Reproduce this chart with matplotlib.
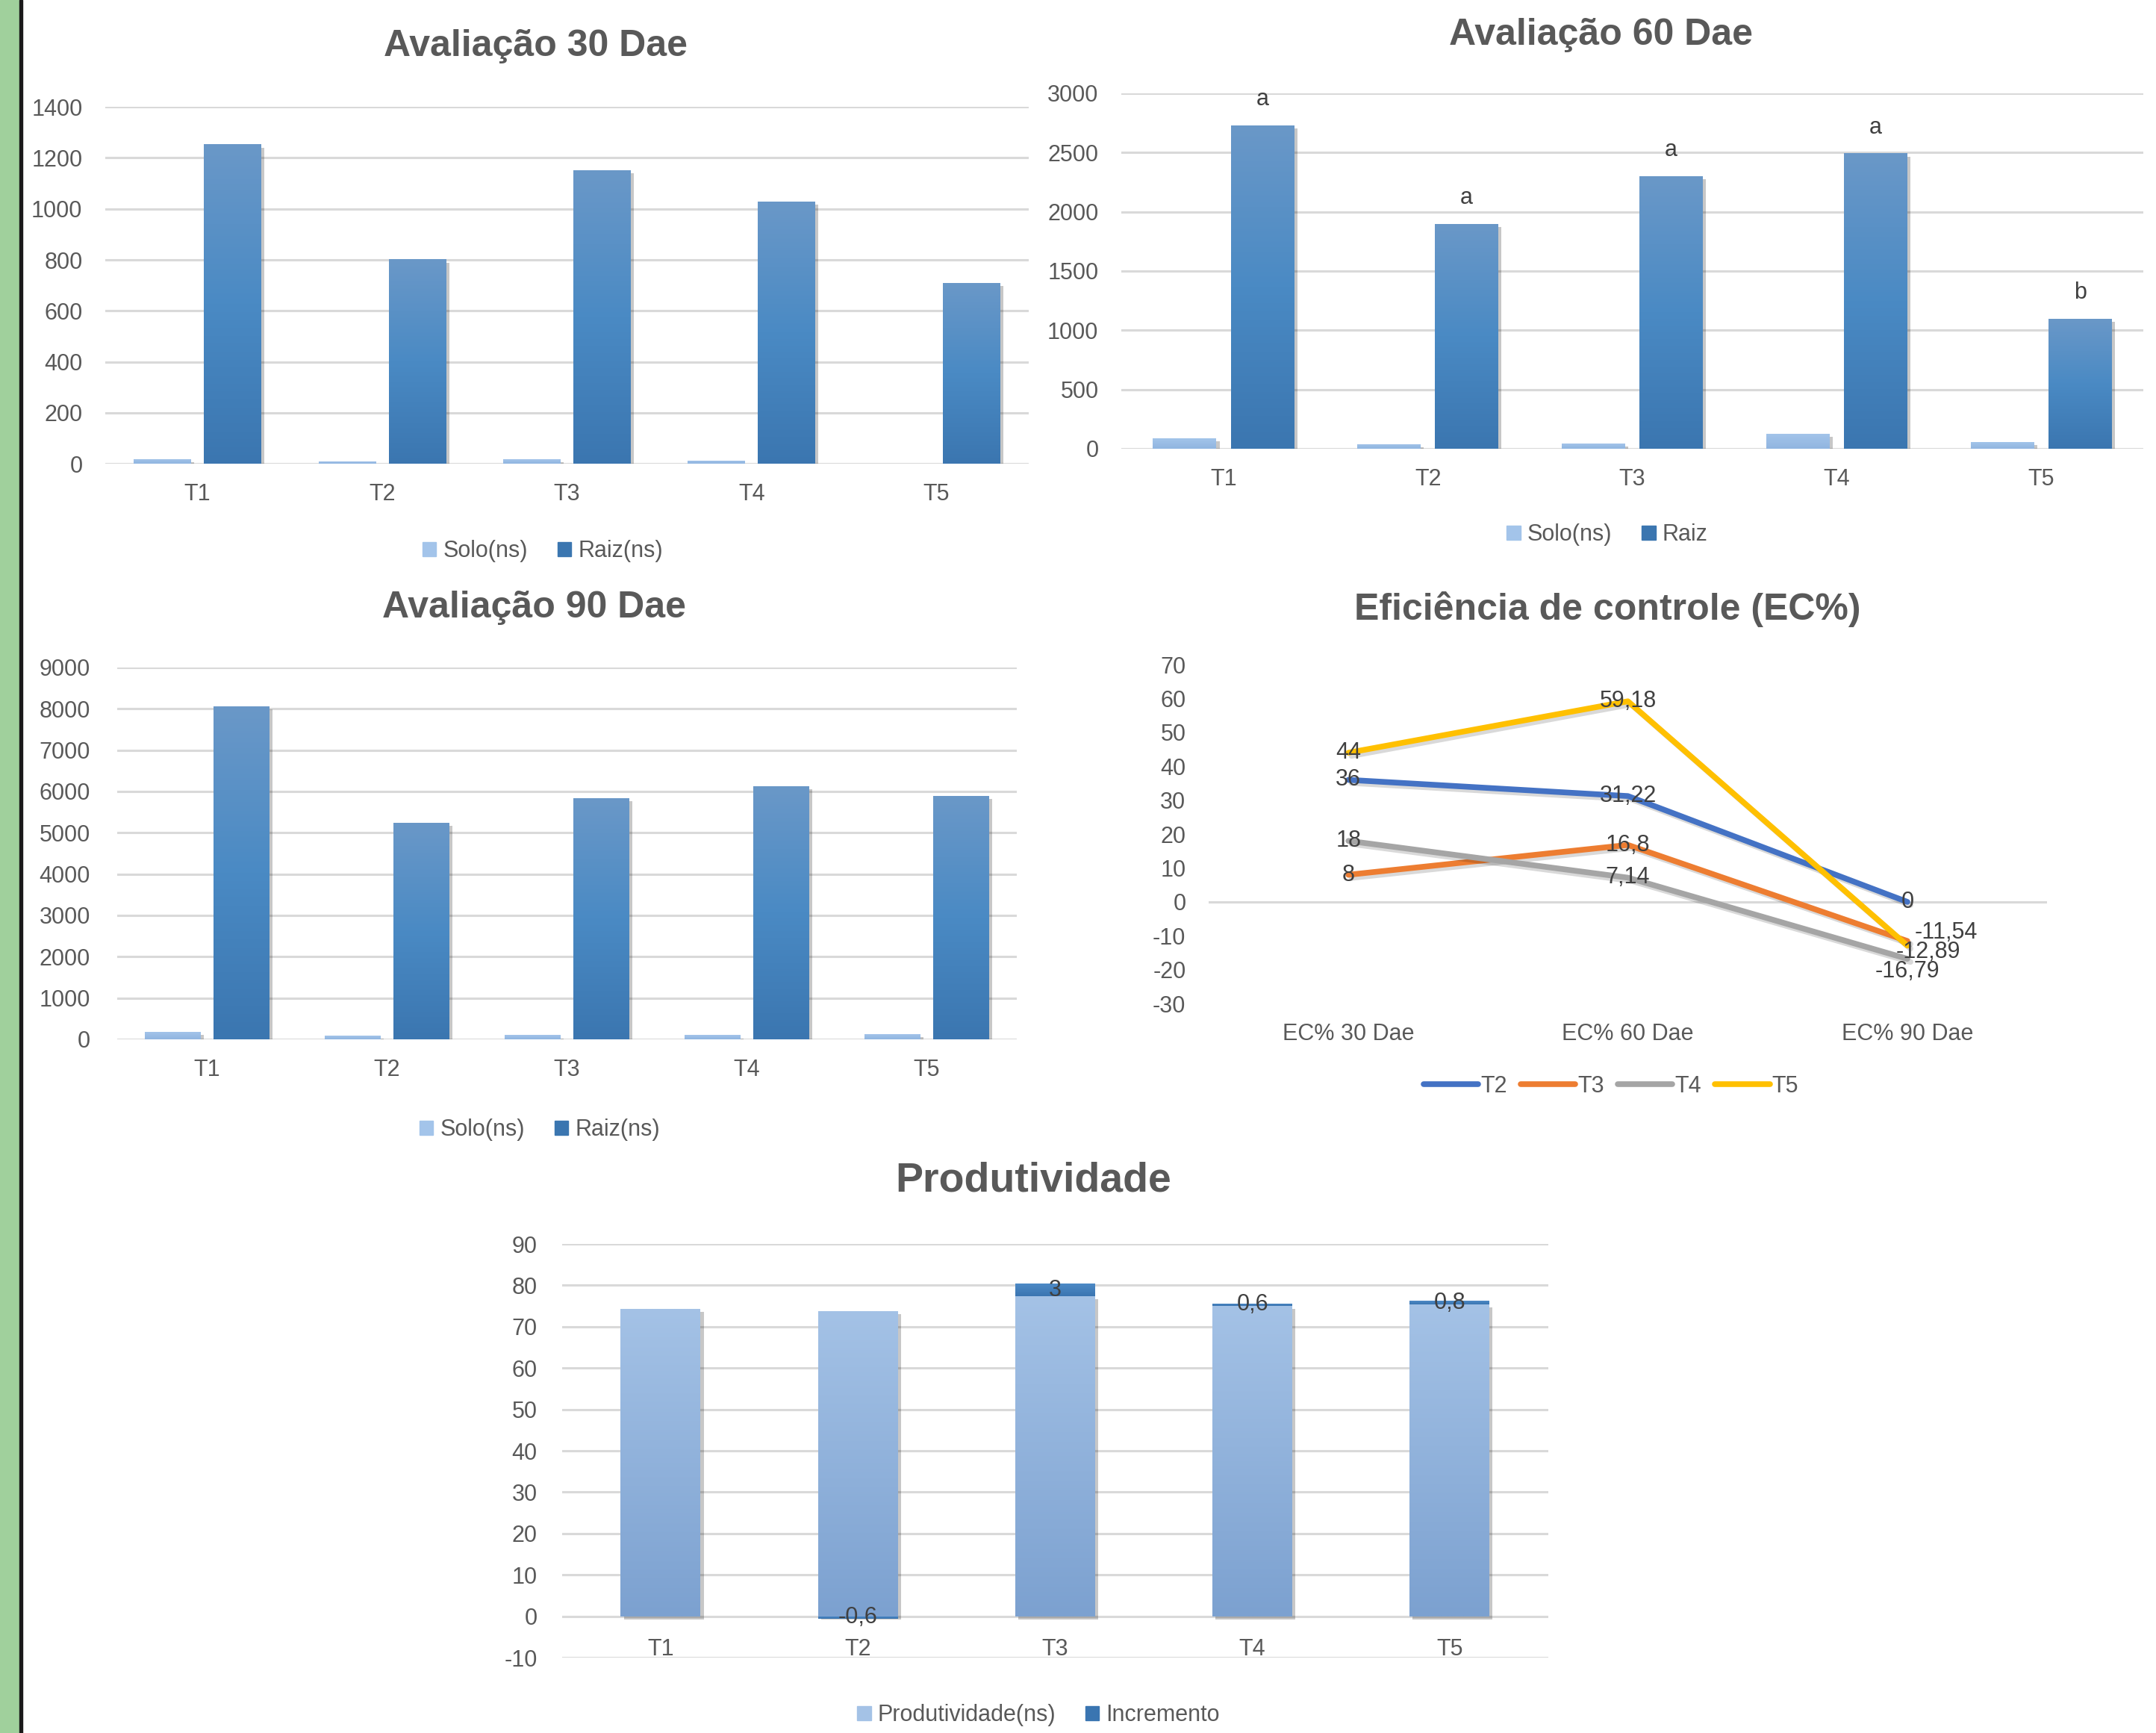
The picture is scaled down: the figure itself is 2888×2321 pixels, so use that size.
import matplotlib
matplotlib.use("Agg")
import matplotlib.pyplot as plt
import matplotlib.patheffects as pe
from matplotlib.patches import Patch, Rectangle
from matplotlib.lines import Line2D
from matplotlib.colors import LinearSegmentedColormap
import numpy as np

plt.rcParams['font.family'] = ['Liberation Sans Narrow', 'Liberation Sans', 'DejaVu Sans']
plt.rcParams['axes.unicode_minus'] = False

# dados
categorias = ['T1', 'T2', 'T3', 'T4', 'T5']
solo_30 = [19, 10, 17, 13, 1]
raiz_30 = [1253, 802, 1151, 1030, 709]
solo_60 = [88, 38, 44, 125, 56]
raiz_60 = [2727, 1897, 2301, 2492, 1097]
letras_60 = ['a', 'a', 'a', 'a', 'b']
solo_90 = [175, 83, 100, 100, 120]
raiz_90 = [8058, 5243, 5834, 6129, 5889]

ec_etapas = ['EC% 30 Dae', 'EC% 60 Dae', 'EC% 90 Dae']
ec_nomes = ['T2', 'T3', 'T4', 'T5']
ec_t2 = [36, 31.22, 0]
ec_t3 = [8, 16.8, -11.54]
ec_t4 = [18, 7.14, -16.79]
ec_t5 = [44, 59.18, -12.89]

produtividade = [74.3, 73.8, 77.4, 75.0, 75.4]
incremento = [0, -0.6, 3, 0.6, 0.8]

COR_TXT = '#595959'
COR_GRADE = '#D9D9D9'
GRAD_SOLO = ['#A3C4EA', '#90B5E0']
GRAD_RAIZ = ['#6A98C8', '#4A8AC4', '#3B76B0']
GRAD_PROD = ['#A4C2E6', '#7CA1D0']
GRAD_INC = ['#4D8AC6', '#3A75B1']
CORES_EC = ['#4472C4', '#ED7D31', '#A5A5A5', '#FFC000']

TICK_FS = 22
TITLE_FS = 36


def fmt(v):
    return f"{v:g}".replace('.', ',')


def pinta_gradiente(ax, barras, cores):
    cmap = LinearSegmentedColormap.from_list('g', cores)
    grad = np.linspace(0, 1, 256).reshape(-1, 1)
    xl, yl = ax.get_xlim(), ax.get_ylim()
    for b in barras:
        h = b.get_height()
        if h == 0:
            continue
        x0, y0, w = b.get_x(), b.get_y(), b.get_width()
        im = ax.imshow(grad, cmap=cmap, aspect='auto', origin='upper',
                       extent=(x0, x0 + w, min(y0, y0 + h), max(y0, y0 + h)),
                       zorder=b.get_zorder() + 0.1, interpolation='bilinear')
        im.set_clip_path(b)
    ax.set_xlim(xl)
    ax.set_ylim(yl)


def sombra():
    return [pe.SimplePatchShadow(offset=(3, -3), shadow_rgbFace='k', alpha=0.22), pe.Normal()]


def estilo(ax, ymin, ymax, passo, padx=19, pady=22):
    ax.set_ylim(ymin, ymax)
    ax.set_yticks(np.arange(ymin, ymax + passo / 2, passo))
    for s in ax.spines.values():
        s.set_visible(False)
    ax.tick_params(axis='both', length=0, labelsize=TICK_FS, labelcolor=COR_TXT)
    ax.tick_params(axis='x', pad=padx)
    ax.tick_params(axis='y', pad=pady)


def grafico_barras(ax, solo, raiz, ymax, passo, nome_raiz, pady=22):
    x = np.arange(len(categorias))
    ax.set_xlim(-0.5, len(categorias) - 0.5)
    estilo(ax, 0, ymax, passo, pady=pady)
    ax.yaxis.grid(True, color=COR_GRADE, linewidth=2.2)
    ax.set_axisbelow(True)
    b1 = ax.bar(x - 0.19, solo, 0.31, color=GRAD_SOLO[0], zorder=2, path_effects=sombra())
    b2 = ax.bar(x + 0.19, raiz, 0.31, color=GRAD_RAIZ[1], zorder=2, path_effects=sombra())
    ax.set_xticks(x)
    ax.set_xticklabels(categorias)
    ax.set_ylim(0, ymax)
    pinta_gradiente(ax, b1, GRAD_SOLO)
    pinta_gradiente(ax, b2, GRAD_RAIZ)
    handles = [Patch(color=GRAD_SOLO[0]), Patch(color=GRAD_RAIZ[2])]
    return b2, handles, ['Solo(ns)', nome_raiz]


fig = plt.figure(figsize=(28.88, 23.21), dpi=100)

# faixa verde na esquerda
fig.patches.append(Rectangle((0, 0), 0.009, 1, transform=fig.transFigure, color='#A0D09C', zorder=0))
fig.patches.append(Rectangle((0.009, 0), 0.0013, 1, transform=fig.transFigure, color='#1a1a1a', zorder=0))

leg_kw = dict(loc='center', ncol=2, frameon=False, fontsize=TICK_FS, labelcolor=COR_TXT,
              handlelength=0.6, handleheight=0.6, handletextpad=0.3, columnspacing=1.3)

# Avaliacao 30 Dae
ax1 = fig.add_axes([0.0488, 0.7324, 0.4283, 0.2059])
_, h, l = grafico_barras(ax1, solo_30, raiz_30, 1400, 200, 'Raiz(ns)')
fig.text(0.2486, 0.9733, 'Avaliação 30 Dae', ha='center', va='center', fontsize=TITLE_FS,
         fontweight='bold', color=COR_TXT)
fig.legend(h, l, bbox_to_anchor=(0.2517, 0.682), **leg_kw)

# Avaliacao 60 Dae
ax2 = fig.add_axes([0.5201, 0.7411, 0.4740, 0.2051])
b, h, l = grafico_barras(ax2, solo_60, raiz_60, 3000, 500, 'Raiz')
for barra, letra in zip(b, letras_60):
    ax2.annotate(letra, (barra.get_x() + barra.get_width() / 2, barra.get_height()),
                 xytext=(0, 25), textcoords='offset points', ha='center', va='center',
                 fontsize=TICK_FS, color='#404040')
fig.text(0.7427, 0.9798, 'Avaliação 60 Dae', ha='center', va='center', fontsize=TITLE_FS,
         fontweight='bold', color=COR_TXT)
fig.legend(h, l, bbox_to_anchor=(0.7455, 0.6915), **leg_kw)

# Avaliacao 90 Dae
ax3 = fig.add_axes([0.0544, 0.4003, 0.4172, 0.2146])
_, h, l = grafico_barras(ax3, solo_90, raiz_90, 9000, 1000, 'Raiz(ns)', pady=26)
fig.text(0.2479, 0.6493, 'Avaliação 90 Dae', ha='center', va='center', fontsize=TITLE_FS,
         fontweight='bold', color=COR_TXT)
fig.legend(h, l, bbox_to_anchor=(0.2503, 0.3481), **leg_kw)

# Eficiencia de controle
ax4 = fig.add_axes([0.5606, 0.4209, 0.3889, 0.1956])
estilo(ax4, -30, 70, 10)
ax4.set_xlim(-0.5, len(ec_etapas) - 0.5)
ax4.axhline(0, color=COR_GRADE, linewidth=2.2, zorder=1)
xe = np.arange(len(ec_etapas))
series = [ec_t2, ec_t3, ec_t4, ec_t5]
linhas = []
for nome, serie, cor in zip(ec_nomes, series, CORES_EC):
    ax4.plot(xe, serie, color=cor, linewidth=5.5, solid_capstyle='round', zorder=3,
             path_effects=[pe.SimpleLineShadow(offset=(3, -3), alpha=0.15), pe.Normal()])
    linhas.append(Line2D([0], [0], color=cor, linewidth=5.5, solid_capstyle='round'))
# deslocamentos dos rotulos no ultimo ponto
desloc = {'T2': (0, 0), 'T3': (37, 8), 'T4': (0, -12), 'T5': (20, -6)}
for nome, serie in zip(ec_nomes, series):
    for i, v in enumerate(serie):
        off = desloc[nome] if i == 2 else (0, 0)
        ax4.annotate(fmt(v), (xe[i], v), xytext=off, textcoords='offset points',
                     ha='center', va='center', fontsize=TICK_FS, color='#404040', zorder=5)
ax4.set_xticks(xe)
ax4.set_xticklabels(ec_etapas)
fig.text(0.7455, 0.6484, 'Eficiência de controle (EC%)', ha='center', va='center',
         fontsize=TITLE_FS, fontweight='bold', color=COR_TXT)
fig.legend(linhas, ec_nomes, loc='center', bbox_to_anchor=(0.7472, 0.3731), ncol=4, frameon=False,
           fontsize=TICK_FS, labelcolor=COR_TXT, handlelength=2.4, handletextpad=0.1,
           columnspacing=0.6)

# Produtividade
ax5 = fig.add_axes([0.2607, 0.0435, 0.4574, 0.2387])
estilo(ax5, -10, 90, 10, padx=-19, pady=24)
x = np.arange(len(categorias))
ax5.set_xlim(-0.5, len(categorias) - 0.5)
ax5.yaxis.grid(True, color=COR_GRADE, linewidth=2.2)
ax5.set_axisbelow(True)
base = [p if v >= 0 else 0 for p, v in zip(produtividade, incremento)]
bp = ax5.bar(x, produtividade, 0.405, color=GRAD_PROD[0], zorder=2, path_effects=sombra())
bi = ax5.bar(x, incremento, 0.405, bottom=base, color=GRAD_INC[0], zorder=2.5)
ax5.set_xticks(x)
ax5.set_xticklabels(categorias)
ax5.set_ylim(-10, 90)
pinta_gradiente(ax5, bp, GRAD_PROD)
pinta_gradiente(ax5, bi, GRAD_INC)
ax5.bar_label(bi, labels=[fmt(v) if v != 0 else '' for v in incremento], label_type='center',
              fontsize=TICK_FS, color='#404040', zorder=6)
fig.text(0.4792, 0.3188, 'Produtividade', ha='center', va='center', fontsize=40,
         fontweight='bold', color=COR_TXT)
leg_kw['bbox_to_anchor'] = (0.4817, 0.0103)
fig.legend([Patch(color=GRAD_PROD[0]), Patch(color=GRAD_INC[1])], ['Produtividade(ns)', 'Incremento'],
           **leg_kw)

fig.savefig('out.png', dpi=100)
